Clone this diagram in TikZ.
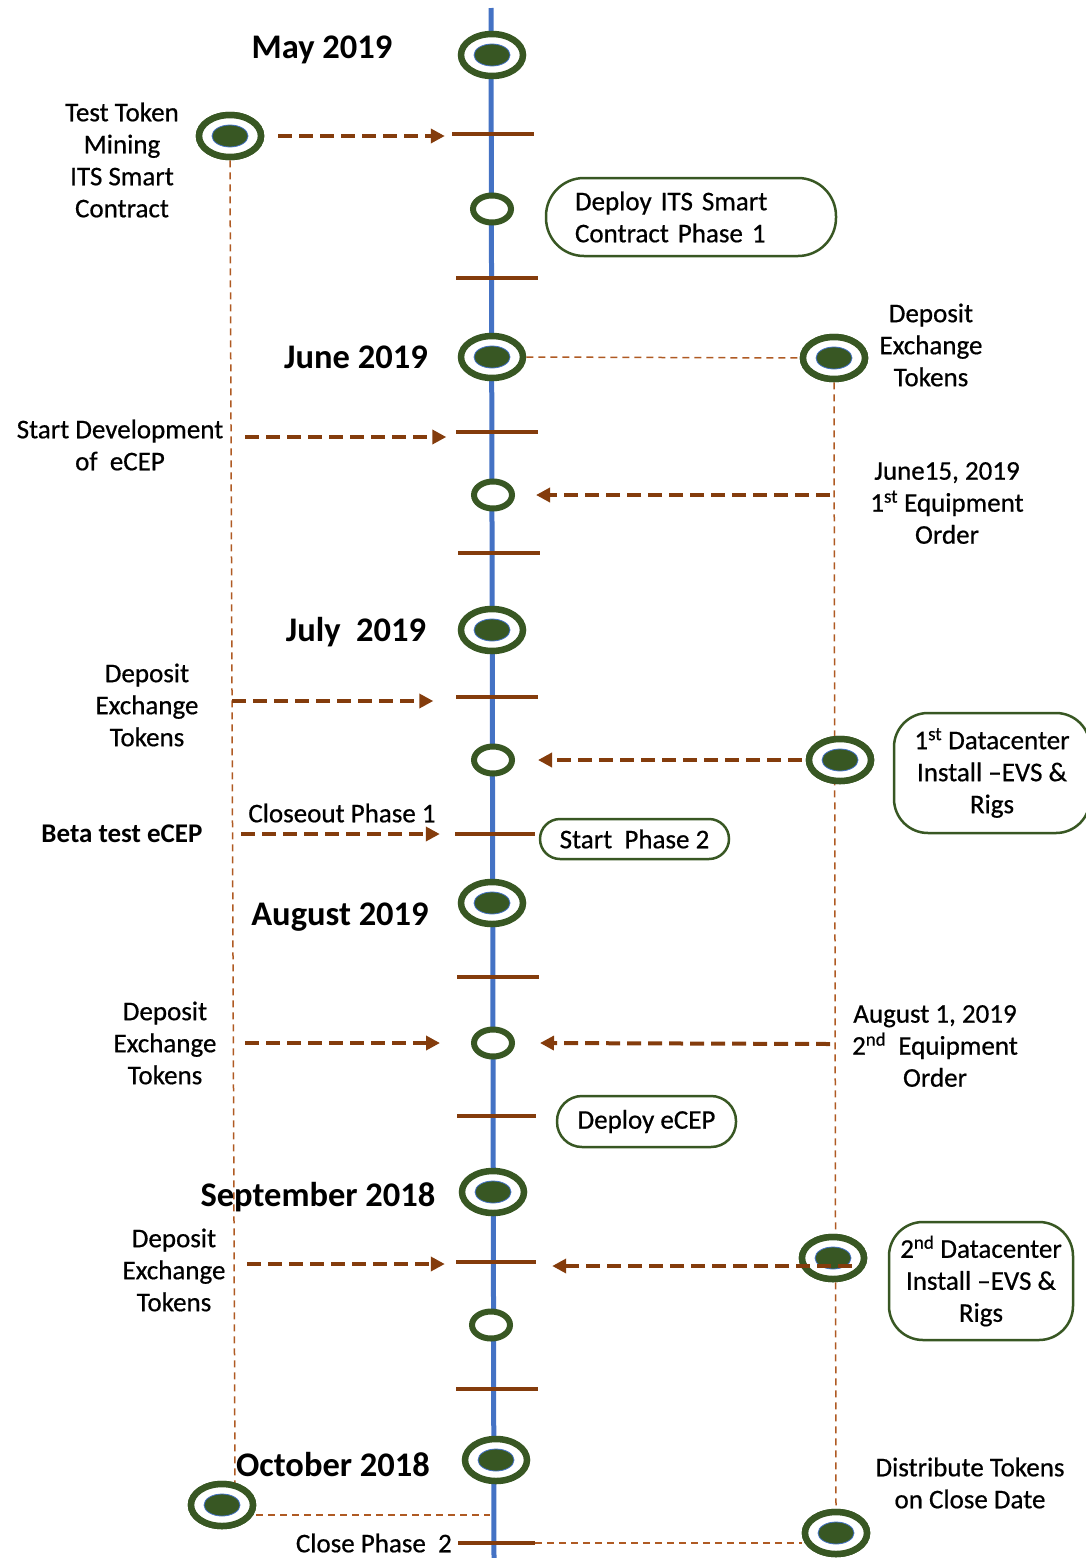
\documentclass[tikz,border=0pt]{standalone}
\usepackage{fontspec}
\setmainfont{Carlito}
\newfontfamily\lblfont{Carlito}[FakeBold=0.6]
\usetikzlibrary{shapes.geometric,arrows.meta,calc}
\definecolor{ring}{RGB}{56,87,35}
\definecolor{axisblue}{RGB}{68,114,196}
\definecolor{brownA}{RGB}{132,60,12}
\definecolor{brownB}{RGB}{175,90,35}
\tikzset{
  bigmark/.style={ellipse, draw=ring, line width=6.5pt, fill=white,
    minimum width=62pt, minimum height=42pt, inner sep=0pt,
    path picture={\fill[ring] (path picture bounding box.center) ellipse [x radius=18pt, y radius=11pt];
      \draw[axisblue, line width=0.8pt] (path picture bounding box.center) ellipse [x radius=18pt, y radius=11pt];}},
  smallmark/.style={ellipse, draw=ring, line width=6pt, fill=white,
    minimum width=38pt, minimum height=27pt, inner sep=0pt},
  ticknode/.style={rectangle, fill=brownA, minimum width=82pt, minimum height=4.5pt, inner sep=0pt},
  flow/.style={brownA, line width=4pt, dash pattern=on 14pt off 7pt, -{Triangle[length=14pt,width=14pt]}},
  guide/.style={brownB, line width=1.5pt, dash pattern=on 7pt off 5pt},
  axisline/.style={axisblue, line width=5pt},
  lbl/.style={font=\lblfont\fontsize{27}{32}\selectfont, align=center, inner sep=0pt},
  month/.style={font=\fontsize{34.5}{40}\selectfont\bfseries, inner sep=0pt},
  pill/.style={draw=ring, line width=2.5pt, fill=white, font=\lblfont\fontsize{27}{32}\selectfont, align=center, inner sep=0pt}
}
\begin{document}
\begin{tikzpicture}[x=1pt,y=-1pt]
\useasboundingbox (0,0) rectangle (1086,1558);

% axis
\coordinate (axtop) at (491,8);
\coordinate (axbot) at (494,1558);
\draw[axisline] (axtop) -- (axbot);

% ticks
\node[ticknode] (k1) at (493,134) {};
\node[ticknode] (k2) at (496.5,278) {};
\node[ticknode] (k3) at (496.5,432) {};
\node[ticknode] (k4) at (498.5,553) {};
\node[ticknode] (k5) at (496.5,697) {};
\node[ticknode, minimum width=80pt] (k6) at (495,834) {};
\node[ticknode] (k7) at (498,977) {};
\node[ticknode, minimum width=79pt] (k8) at (496.5,1116) {};
\node[ticknode, minimum width=80pt] (k9) at (496,1262) {};
\node[ticknode] (k10) at (497,1389) {};
\node[ticknode, minimum width=77pt] (k11) at (496.5,1543) {};

\coordinate (lvEnd) at (235,1487);
\coordinate (lh) at (490,1515);

% side markers
\node[bigmark] (ttok) at (230,136) {};
\node[bigmark] (lo) at (222,1505) {};
\node[bigmark] (rj) at (834,358) {};
\node[bigmark] (rd1) at (840,760) {};
\node[bigmark] (rd2) at (833,1258) {};
\node[bigmark] (rb) at (836,1533) {};

% month markers
\node[bigmark] (mmay) at (492,55) {};
\node[bigmark] (mjun) at (492,357) {};
\node[bigmark] (mjul) at (492,630) {};
\node[bigmark] (maug) at (492,903) {};
\node[bigmark] (msep) at (493,1192) {};
\node[bigmark] (moct) at (496,1460) {};

% guides
\draw[guide] (ttok.south) -- (lvEnd);
\draw[guide] (lo.east |- lh) -- (lh);
\draw[guide] (mjun.east) -- (rj.west);
\draw[guide] (rj.south) -- (rb.north);
\draw[guide] (k11.east) -- (k11.east -| rb.west);

% markers again on top of guides
\node[bigmark] at (ttok) {};
\node[bigmark] at (lo) {};
\node[bigmark] at (rj) {};
\node[bigmark] at (rd1) {};
\node[bigmark] at (rd2) {};
\node[bigmark] at (rb) {};

% small markers
\node[smallmark] (s1) at (492,209) {};
\node[smallmark] (s2) at (493,495) {};
\node[smallmark] (s3) at (493,760) {};
\node[smallmark] (s4) at (493,1043) {};
\node[smallmark] (s5) at (491,1325) {};

% month labels
\node[month] (lmay) at (322,50) {May 2019};
\node[month] (ljun) at (356,357) {June 2019};
\node[month] (ljul) at (356,632) {July\ \ 2019};
\node[month] (laug) at (340,917) {August 2019};
\node[month] (lsep) at (318,1197) {September 2018};
\node[month] (loct) at (333,1465) {October 2018};

% text labels
\node[lbl] (ttl) at (122,160) {Test Token\\Mining\\ITS Smart\\Contract};
\node[pill, rounded corners=38pt, minimum width=290pt, minimum height=78pt,
      text width=232pt, inner xsep=29pt, align=left] (dits) at (691,217) {Deploy ITS Smart\\Contract Phase 1};
\node[lbl] (dep1) at (931,345) {Deposit\\Exchange\\Tokens};
\node[lbl] (sdev) at (120,445) {Start Development\\of\ \ eCEP};
\node[lbl] (jun15) at (947,503) {June15, 2019\\1\textsuperscript{st} Equipment\\Order};
\node[lbl] (dep2) at (147,705) {Deposit\\Exchange\\Tokens};
\node[pill, rounded corners=34pt, minimum width=196pt, minimum height=120pt] (dc1) at (992,773) {1\textsuperscript{st} Datacenter\\Install –EVS \&\\Rigs};
\node[lbl, font=\fontsize{27}{32}\selectfont\bfseries] (beta) at (122,834) {Beta test eCEP};
\node[lbl] (clo1) at (342,813) {Closeout Phase 1};
\node[pill, rounded corners=20pt, minimum width=189pt, minimum height=40pt] (sp2) at (634.5,839) {Start\ \ Phase 2};
\node[lbl] (dep3) at (165,1043) {Deposit\\Exchange\\Tokens};
\node[lbl] (aug1) at (935,1046) {August 1, 2019\\2\textsuperscript{nd}\ \ Equipment\\Order};
\node[pill, rounded corners=25pt, minimum width=179pt, minimum height=51pt] (decep) at (646.5,1121.5) {Deploy eCEP};
\node[lbl] (dep4) at (174,1270) {Deposit\\Exchange\\Tokens};
\node[pill, rounded corners=34pt, minimum width=184pt, minimum height=118pt] (dc2) at (981,1281) {2\textsuperscript{nd} Datacenter\\Install –EVS \&\\Rigs};
\node[lbl] (dist) at (970,1483) {Distribute Tokens\\on Close Date};
\node[lbl, anchor=east] (cp2) at (452,1543) {Close Phase\ \ 2};

% flow arrows
\coordinate (t2) at (245,437);
\coordinate (t3) at (232,701);
\coordinate (t4) at (241,834);
\coordinate (t5) at (245,1043);
\coordinate (t6) at (247,1264);
\coordinate (t7) at (830,495);
\coordinate (t9) at (830,1044);
\coordinate (t10) at (852,1266);

\draw[flow] ($(ttok.east)+(14,0)$) -- ($(ttok.east -| k1.west)+(-7,0)$);
\draw[flow] (t2) -- ($(t2 -| k3.west)+(-9,0)$);
\draw[flow] (t3) -- ($(t3 -| k5.west)+(-22,0)$);
\draw[flow] (t4) -- ($(t4 -| k6.west)+(-15,0)$);
\draw[flow] (t5) -- ($(s4.west)+(-31,0)$);
\draw[flow] (t6) -- ($(t6 -| k9.west)+(-11,0)$);
\draw[flow] (t7) -- ($(t7 -| s2.east)+(21,0)$);
\draw[flow] ($(rd1.west)+(-4,0)$) -- ($(s3.east)+(23,0)$);
\draw[flow] (t9) -- ($(s4.east)+(25,0)$);
\draw[flow] (t10) -- ($(t10 -| k9.east)+(16,0)$);
\end{tikzpicture}
\end{document}
